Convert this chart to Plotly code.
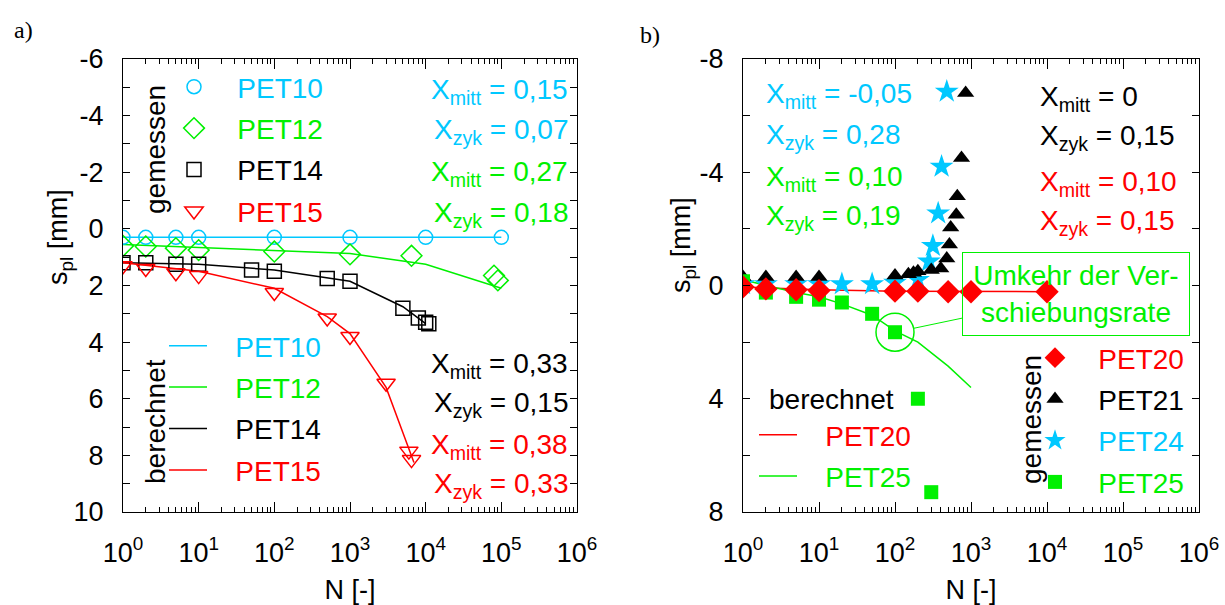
import plotly.graph_objects as go

W, H = 1225, 605

# ---------------- data: panel a ----------------
N10_m = [1, 2, 5, 10, 100, 1000, 10000, 100000]
S10_m = [0.3, 0.3, 0.3, 0.3, 0.3, 0.3, 0.3, 0.3]
N10_c = [1, 10, 100, 1000, 10000, 100000]
S10_c = [0.3, 0.3, 0.3, 0.3, 0.3, 0.3]

N12_m = [1, 2, 5, 10, 100, 1000, 6500, 80000, 90000]
S12_m = [0.6, 0.62, 0.68, 0.75, 0.8, 0.9, 0.95, 1.65, 1.82]
N12_c = [1, 10, 100, 1000, 10000, 100000]
S12_c = [0.55, 0.65, 0.75, 0.87, 1.25, 2.1]

N14_m = [1, 2, 5, 10, 50, 100, 500, 1000, 5000, 8000, 10000, 11000]
S14_m = [1.2, 1.2, 1.25, 1.25, 1.45, 1.5, 1.75, 1.85, 2.8, 3.15, 3.3, 3.35]
N14_c = [1, 10, 100, 1000, 5000, 10000]
S14_c = [1.2, 1.25, 1.45, 1.85, 2.75, 3.35]

N15_m = [1, 2, 5, 10, 100, 500, 1000, 3000, 6000, 6500]
S15_m = [1.3, 1.4, 1.55, 1.65, 2.25, 3.15, 3.8, 5.45, 7.85, 8.15]
N15_c = [1, 10, 100, 500, 1000, 3000, 7000]
S15_c = [1.2, 1.5, 2.1, 3.1, 3.7, 5.6, 8.25]

# ---------------- data: panel b ----------------
N20_m = [1, 2, 5, 10, 100, 200, 500, 1000, 10000]
S20_m = [0.05, 0.12, 0.15, 0.18, 0.2, 0.2, 0.22, 0.22, 0.22]
N20_c = [1, 10, 100, 1000, 10000]
S20_c = [0.05, 0.15, 0.2, 0.22, 0.22]

N21_m = [1, 2, 5, 10, 100, 150, 175, 200, 300, 400, 480, 520, 540, 640, 660, 750, 850]
S21_m = [-0.3, -0.3, -0.3, -0.3, -0.35, -0.4, -0.45, -0.5, -0.55, -0.6, -0.95,
         -1.45, -2.05, -2.5, -3.15, -4.5, -6.8]

N24_m = [1, 2, 5, 10, 20, 50, 100, 200, 280, 315, 370, 410, 480]
S24_m = [-0.05, -0.05, -0.05, -0.05, -0.05, -0.05, -0.1, -0.2, -0.85, -1.4, -2.55, -4.2, -6.85]

N25_m = [1, 2, 5, 10, 20, 50, 100, 200, 300]
S25_m = [-0.15, 0.25, 0.4, 0.5, 0.6, 1.0, 1.65, 4.0, 7.3]
N25_c = [1, 2, 5, 10, 20, 50, 100, 200, 500, 1000]
S25_c = [-0.2, 0.0, 0.25, 0.4, 0.65, 1.05, 1.6, 2.0, 2.85, 3.6]

XTICK_EXP = [0, 1, 2, 3, 4, 5, 6]

CYAN = "#00c8ff"
GREEN = "#00f000"
RED = "#ff0000"
BLACK = "#000000"
FONT = "Liberation Sans, Arial, sans-serif"
FS = 28


def px2x(px):
    return px / W


def py2y(py):
    return 1 - py / H


def lname(text, color):
    return f"<span style='color:{color}'>&nbsp;&nbsp;&nbsp;{text}</span>"


fig = go.Figure()

# ---- panel a: calculated lines ----
for n, s, c, name in [(N10_c, S10_c, CYAN, "PET10"), (N12_c, S12_c, GREEN, "PET12"),
                      (N14_c, S14_c, BLACK, "PET14"), (N15_c, S15_c, RED, "PET15")]:
    fig.add_trace(go.Scatter(x=n, y=s, mode="lines", line=dict(color=c, width=1.5),
                             name=lname(name, c), legend="legend2", legendgroup="a_c" + name,
                             xaxis="x", yaxis="y"))
# ---- panel a: measured markers ----
for n, s, c, sym, sz, name in [(N10_m, S10_m, CYAN, "circle-open", 14, "PET10"),
                               (N12_m, S12_m, GREEN, "diamond-open", 16, "PET12"),
                               (N14_m, S14_m, BLACK, "square-open", 14, "PET14"),
                               (N15_m, S15_m, RED, "triangle-down-open", 16, "PET15")]:
    fig.add_trace(go.Scatter(x=n, y=s, mode="markers",
                             marker=dict(symbol=sym, size=sz, color=c, line=dict(width=1.5, color=c)),
                             name=lname(name, c), legend="legend", legendgroup="a_m" + name,
                             xaxis="x", yaxis="y"))

# ---- panel b: calculated lines ----
for n, s, c, name in [(N20_c, S20_c, RED, "PET20"), (N25_c, S25_c, GREEN, "PET25")]:
    fig.add_trace(go.Scatter(x=n, y=s, mode="lines", line=dict(color=c, width=1.5),
                             name=lname(name, c), legend="legend3", legendgroup="b_c" + name,
                             xaxis="x2", yaxis="y2"))

# highlight circle around reversal point (PET25 measured at N=100)
fig.add_trace(go.Scatter(x=[N25_m[6]], y=[S25_m[6]], mode="markers",
                         marker=dict(symbol="circle-open", size=38, color=GREEN, line=dict(width=1.5, color=GREEN)),
                         showlegend=False, hoverinfo="skip", xaxis="x2", yaxis="y2"))

# ---- panel b: measured markers (draw order: stars, triangles, squares, diamonds) ----
meas_b = [(N24_m, S24_m, CYAN, "star", 18, "PET24", 3),
          (N21_m, S21_m, BLACK, "triangle-up", 15, "PET21", 2),
          (N25_m, S25_m, GREEN, "square", 14, "PET25", 4),
          (N20_m, S20_m, RED, "diamond", 18, "PET20", 1)]
for n, s, c, sym, sz, name, rank in meas_b:
    fig.add_trace(go.Scatter(x=n, y=s, mode="markers",
                             marker=dict(symbol=sym, size=sz, color=c, line=dict(width=0)),
                             name=lname(name, c), legend="legend4", legendgroup="b_m" + name,
                             legendrank=rank, xaxis="x2", yaxis="y2"))

# ---------------- axes ----------------
tickfont = dict(family=FONT, size=27, color=BLACK)
xtv = [10 ** e for e in XTICK_EXP]
xtt = [f"10<sup>{e}</sup>" for e in XTICK_EXP]
minor_vals = [m * 10 ** e for e in XTICK_EXP[:-1] for m in range(2, 10)]

xcommon = dict(type="log", range=[0, 6], tickmode="array", tickvals=xtv, ticktext=xtt,
               ticks="inside", ticklen=10, tickwidth=1, tickcolor=BLACK,
               showline=True, linecolor=BLACK, linewidth=1.2, mirror="ticks",
               showgrid=False, zeroline=False, tickfont=tickfont, ticklabelstandoff=16,
               minor=dict(tickmode="array", tickvals=minor_vals, ticks="inside", ticklen=5,
                          tickwidth=1, tickcolor=BLACK, showgrid=False),
               title=dict(text="N [-]", font=dict(family=FONT, size=27, color=BLACK), standoff=14),
               automargin=False)

ycommon = dict(ticks="inside", ticklen=7, tickwidth=1, tickcolor=BLACK,
               showline=True, linecolor=BLACK, linewidth=1.2, mirror="ticks",
               showgrid=False, zeroline=False, tickfont=tickfont, ticklabelstandoff=13,
               automargin=False)

ya_vals = list(range(-6, 11))
ya_text = [str(v) if v % 2 == 0 else "" for v in ya_vals]
yb_vals = list(range(-8, 9, 2))
yb_text = [str(v) if v % 4 == 0 else "" for v in yb_vals]

fig.update_layout(
    xaxis=dict(domain=[px2x(123), px2x(577)], anchor="y", **xcommon),
    yaxis=dict(domain=[py2y(512), py2y(59)], anchor="x", range=[10, -6],
               tickmode="array", tickvals=ya_vals, ticktext=ya_text, **ycommon),
    xaxis2=dict(domain=[px2x(743), px2x(1199)], anchor="y2", **xcommon),
    yaxis2=dict(domain=[py2y(512), py2y(59)], anchor="x2", range=[8, -8],
                tickmode="array", tickvals=yb_vals, ticktext=yb_text, **ycommon),
)

leg_common = dict(bgcolor="rgba(0,0,0,0)", borderwidth=0, font=dict(family=FONT, size=FS),
                  xanchor="left", yanchor="top", tracegroupgap=2, itemclick=False, itemdoubleclick=False)
fig.update_layout(
    legend=dict(x=px2x(174), y=py2y(62), itemwidth=30, **leg_common),
    legend2=dict(x=px2x(164), y=py2y(321), itemwidth=38, **leg_common),
    legend3=dict(x=px2x(754), y=py2y(410), itemwidth=38, **leg_common),
    legend4=dict(x=px2x(1035), y=py2y(333), itemwidth=30, **leg_common),
)

# ---------------- annotations ----------------
ann = []


def txt(text, px, py, color, xanchor="left", size=FS, angle=0, family=FONT):
    ann.append(dict(text=text, x=px2x(px), y=py2y(py), xref="paper", yref="paper",
                    xanchor=xanchor, yanchor="middle", showarrow=False, textangle=angle,
                    font=dict(family=family, size=size, color=color)))


txt("a)", 12, 30, BLACK, size=24, family="Liberation Serif, Times New Roman, serif")
txt("b)", 638, 35, BLACK, size=24, family="Liberation Serif, Times New Roman, serif")

# y-axis titles
txt("s<sub>pl</sub> [mm]", 60, 237, BLACK, xanchor="center", size=27, angle=-90)
txt("s<sub>pl</sub> [mm]", 683, 245, BLACK, xanchor="center", size=27, angle=-90)

txt("gemessen", 155, 150, BLACK, xanchor="center", angle=-90)
txt("berechnet", 155, 422, BLACK, xanchor="center", angle=-90)
txt("gemessen", 1031, 420, BLACK, xanchor="center", angle=-90)
txt("berechnet", 767, 399, BLACK)

# panel a parameter texts
for t, py, c in [("X<sub>mitt</sub> = 0,15", 92, CYAN), ("X<sub>zyk</sub> = 0,07", 132, CYAN),
                 ("X<sub>mitt</sub> = 0,27", 174, GREEN), ("X<sub>zyk</sub> = 0,18", 214, GREEN),
                 ("X<sub>mitt</sub> = 0,33", 365, BLACK), ("X<sub>zyk</sub> = 0,15", 404, BLACK),
                 ("X<sub>mitt</sub> = 0,38", 446, RED), ("X<sub>zyk</sub> = 0,33", 486, RED)]:
    txt(t, 570, py, c, xanchor="right")

# panel b parameter texts
for t, py, c in [("X<sub>mitt</sub> = -0,05", 96, CYAN), ("X<sub>zyk</sub> = 0,28", 136, CYAN),
                 ("X<sub>mitt</sub> = 0,10", 179, GREEN), ("X<sub>zyk</sub> = 0,19", 217, GREEN)]:
    txt(t, 764, py, c)
for t, py, c in [("X<sub>mitt</sub> = 0", 99, BLACK), ("X<sub>zyk</sub> = 0,15", 137, BLACK),
                 ("X<sub>mitt</sub> = 0,10", 184, RED), ("X<sub>zyk</sub> = 0,15", 222, RED)]:
    txt(t, 1038, py, c)

# reversal annotation box with connector (transparent box)
ann.append(dict(text="Umkehr der Ver-<br>schiebungsrate", x=2, y=S25_m[6], xref="x2", yref="y2",
                showarrow=True, arrowhead=0, arrowwidth=1, arrowcolor=GREEN, standoff=19,
                ax=181, ay=-38, axref="pixel", ayref="pixel",
                width=226, height=82, bordercolor=GREEN, borderwidth=1, borderpad=0,
                bgcolor="rgba(0,0,0,0)", align="center",
                font=dict(family=FONT, size=FS, color=GREEN)))

fig.update_layout(annotations=ann, width=W, height=H, margin=dict(l=0, r=0, t=0, b=0),
                  paper_bgcolor="white", plot_bgcolor="white", showlegend=True)

fig.write_html("out.html", config={"displayModeBar": False},
               post_script="document.body.style.margin='0px';")
